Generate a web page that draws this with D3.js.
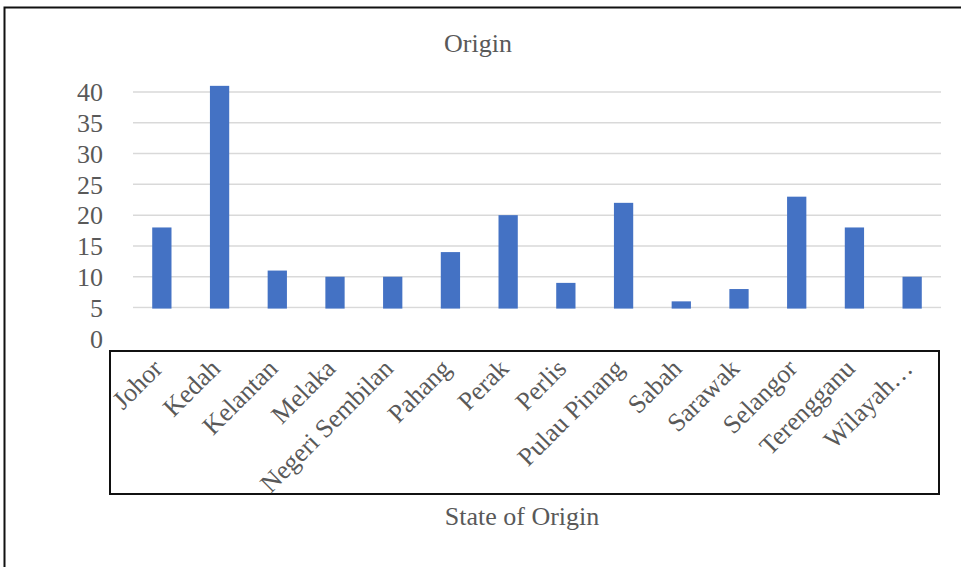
<!DOCTYPE html>
<html>
<head>
<meta charset="utf-8">
<script src="https://cdn.jsdelivr.net/npm/d3@7"></script>
<style>
  html, body { margin: 0; padding: 0; background: #fff; }
  svg { display: block; }
  text { font-family: "Liberation Serif", "Times New Roman", serif; fill: #595959; }
</style>
</head>
<body>
<svg id="chart" width="961" height="567"></svg>
<script>
// Respondents by state of origin
const states = ["Johor", "Kedah", "Kelantan", "Melaka", "Negeri Sembilan", "Pahang", "Perak",
                "Perlis", "Pulau Pinang", "Sabah", "Sarawak", "Selangor", "Terengganu", "Wilayah…"];
const counts = [18, 41, 11, 10, 10, 14, 20, 9, 22, 6, 8, 23, 18, 10];
const yTicks = [0, 5, 10, 15, 20, 25, 30, 35, 40];
const chartTitle = "Origin";
const xTitle = "State of Origin";

const svg = d3.select("#chart");

// outer frame (runs past the right and bottom edges)
svg.append("rect")
  .attr("x", 4.5).attr("y", 7.5)
  .attr("width", 1000).attr("height", 600)
  .attr("fill", "#fff").attr("stroke", "#111").attr("stroke-width", 2);

const x = d3.scaleBand()
  .domain(states)
  .range([133, 941])
  .paddingInner(0.666)
  .paddingOuter(0.333);

const y = d3.scaleLinear()
  .domain([0, 40])
  .range([338.3, 92]);

// gridlines
svg.append("g")
  .selectAll("line")
  .data(yTicks)
  .join("line")
  .attr("x1", 133).attr("x2", 941)
  .attr("y1", d => y(d)).attr("y2", d => y(d))
  .attr("stroke", "#d9d9d9").attr("stroke-width", 1.5);

// y tick labels
const yAxis = d3.axisLeft(y).tickValues(yTicks).tickSize(0).tickPadding(0);
const yg = svg.append("g").attr("transform", "translate(103,0)").call(yAxis);
yg.select(".domain").remove();
yg.selectAll("text")
  .attr("font-size", 26)
  .attr("font-family", "Liberation Serif, serif")
  .attr("dy", "0.34em")
  .attr("fill", "#595959");

// bars
svg.append("g")
  .selectAll("rect")
  .data(states)
  .join("rect")
  .attr("x", d => x(d))
  .attr("width", x.bandwidth())
  .attr("y", (d, i) => y(counts[i]))
  .attr("height", (d, i) => y(0) - y(counts[i]))
  .attr("fill", "#4472C4");

// category label panel, laid over the foot of the plot
svg.append("rect")
  .attr("x", 112).attr("y", 308.6)
  .attr("width", 835).attr("height", 42)
  .attr("fill", "#fff");
svg.append("rect")
  .attr("x", 110).attr("y", 351)
  .attr("width", 829).attr("height", 143)
  .attr("fill", "#fff").attr("stroke", "#111").attr("stroke-width", 2);

svg.append("g")
  .selectAll("text")
  .data(states)
  .join("text")
  .attr("transform", d => `translate(${x(d) + x.bandwidth() / 2 + 2},370) rotate(-45)`)
  .attr("text-anchor", "end")
  .attr("font-size", 26)
  .text(d => d);

// titles
svg.append("text")
  .attr("x", 478).attr("y", 52)
  .attr("text-anchor", "middle")
  .attr("font-size", 26)
  .text(chartTitle);

svg.append("text")
  .attr("x", 522).attr("y", 525)
  .attr("text-anchor", "middle")
  .attr("font-size", 26)
  .text(xTitle);
</script>
</body>
</html>
